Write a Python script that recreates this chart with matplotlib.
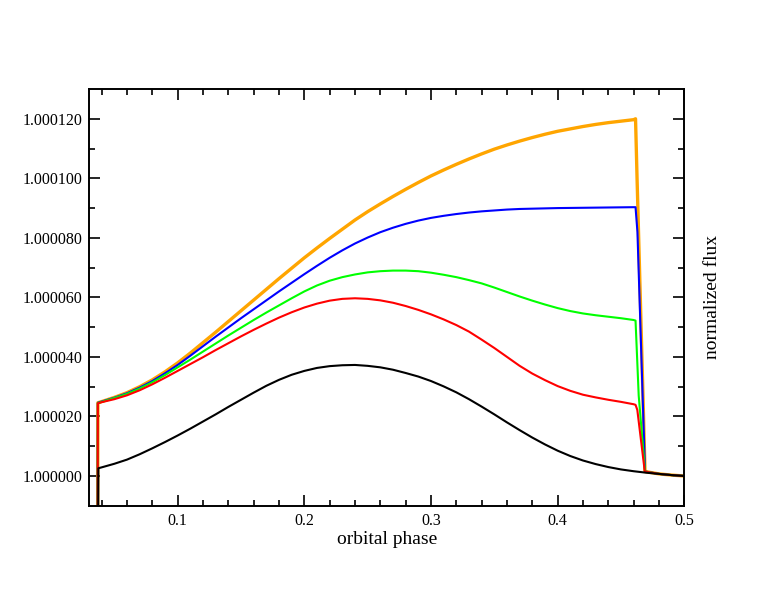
import numpy as np
import matplotlib
matplotlib.use('Agg')
import matplotlib.pyplot as plt
import matplotlib.ticker as tck

plt.rcParams['font.family'] = ['Liberation Serif', 'DejaVu Serif']

# phase grid shared by the coloured curves (smooth part, before the drop)
phase_c = [0.0368, 0.0370,
           0.04, 0.05, 0.06, 0.07, 0.08, 0.09, 0.10, 0.11, 0.12, 0.13,
           0.14, 0.15, 0.16, 0.17, 0.18, 0.19, 0.20, 0.21, 0.22, 0.23,
           0.24, 0.25, 0.26, 0.27, 0.28, 0.29, 0.30, 0.31, 0.32, 0.33,
           0.34, 0.35, 0.36, 0.37, 0.38, 0.39, 0.40, 0.41, 0.42, 0.43,
           0.44, 0.45, 0.46, 0.4615]

# flux excess in units of 1e-6 (flux = 1 + value*1e-6)
orange_v = [-20, 24.6,
            25.0, 26.4, 28.0, 30.0, 32.3, 35.0, 38.0, 41.3, 44.8, 48.3,
            51.9, 55.5, 59.1, 62.7, 66.3, 69.8, 73.3, 76.6, 79.8, 82.9,
            86.0, 88.8, 91.4, 93.9, 96.3, 98.6, 100.8, 102.8, 104.7, 106.5,
            108.2, 109.8, 111.2, 112.5, 113.7, 114.8, 115.8, 116.6, 117.4, 118.1,
            118.7, 119.2, 119.7, 120.0]
blue_v = [-20, 24.6,
          25.0, 26.3, 27.8, 29.7, 31.9, 34.5, 37.3, 40.4, 43.6, 46.8,
          49.9, 53.0, 56.0, 59.0, 62.0, 64.9, 67.8, 70.6, 73.3, 75.8,
          78.1, 80.1, 81.9, 83.4, 84.7, 85.8, 86.7, 87.4, 88.0, 88.5,
          88.9, 89.2, 89.5, 89.7, 89.8, 89.9, 90.0, 90.05, 90.1, 90.15,
          90.2, 90.25, 90.3, 90.3]
green_v = [-20, 24.5,
           24.9, 26.2, 27.6, 29.4, 31.5, 33.9, 36.5, 39.1, 41.8, 44.5,
           47.2, 49.8, 52.4, 54.9, 57.3, 59.7, 62.0, 64.0, 65.6, 66.8,
           67.7, 68.4, 68.8, 69.0, 69.0, 68.8, 68.3, 67.6, 66.8, 65.8,
           64.7, 63.3, 61.8, 60.3, 58.9, 57.6, 56.4, 55.4, 54.6, 54.0,
           53.5, 53.0, 52.4, 52.2]
red_v = [-20, 24.4,
         24.8, 25.8, 27.1, 28.8, 30.8, 33.0, 35.3, 37.6, 39.9, 42.3,
         44.6, 46.9, 49.1, 51.2, 53.2, 55.0, 56.6, 57.9, 58.9, 59.5,
         59.7, 59.5, 59.0, 58.2, 57.1, 55.8, 54.3, 52.6, 50.7, 48.5,
         45.8, 43.0, 40.0, 37.0, 34.4, 32.2, 30.2, 28.6, 27.3, 26.4,
         25.6, 24.9, 24.1, 23.9]

# drop at the end of each coloured curve, then the common tail
orange_tail_p = [0.4627, 0.4690, 0.48, 0.49, 0.50]
orange_tail_v = [100.0, 1.5, 0.7, 0.3, 0.0]
blue_tail_p = [0.4630, 0.4690, 0.48, 0.49, 0.50]
blue_tail_v = [82.0, 1.5, 0.7, 0.3, 0.0]
green_tail_p = [0.4640, 0.4690, 0.48, 0.49, 0.50]
green_tail_v = [27.0, 1.5, 0.7, 0.3, 0.0]
red_tail_p = [0.4629, 0.4688, 0.48, 0.49, 0.50]
red_tail_v = [22.2, 1.5, 0.7, 0.3, 0.0]

# black curve
phase_k = [0.0372, 0.0374,
           0.04, 0.05, 0.06, 0.07, 0.08, 0.09, 0.10, 0.11, 0.12, 0.13,
           0.14, 0.15, 0.16, 0.17, 0.18, 0.19, 0.20, 0.21, 0.22, 0.23,
           0.24, 0.25, 0.26, 0.27, 0.28, 0.29, 0.30, 0.31, 0.32, 0.33,
           0.34, 0.35, 0.36, 0.37, 0.38, 0.39, 0.40, 0.41, 0.42, 0.43,
           0.44, 0.45, 0.46, 0.47, 0.48, 0.49, 0.50]
black_v = [-20, 2.6,
           2.9, 4.1, 5.5, 7.3, 9.3, 11.4, 13.6, 15.9, 18.3, 20.7,
           23.2, 25.6, 28.0, 30.3, 32.3, 34.0, 35.3, 36.3, 36.9, 37.2,
           37.3, 37.0, 36.5, 35.7, 34.6, 33.4, 31.9, 30.1, 28.1, 25.8,
           23.3, 20.7, 18.0, 15.4, 12.9, 10.6, 8.5, 6.7, 5.2, 4.0,
           3.0, 2.2, 1.6, 1.1, 0.7, 0.3, 0.0]

fig = plt.figure(figsize=(7.7, 5.95), dpi=100)
ax = fig.add_axes([0.1156, 0.150, 0.7731, 0.7004])

def flux(v):
    return 1.0 + np.array(v) * 1e-6

# coloured curves, drawn in order so red sits on top, black last
series = [(orange_v, orange_tail_p, orange_tail_v, '#FFA500', 2.4),
          (blue_v, blue_tail_p, blue_tail_v, '#0000FF', 1.5),
          (green_v, green_tail_p, green_tail_v, '#00FF00', 1.5),
          (red_v, red_tail_p, red_tail_v, '#FF0000', 1.5)]
for vals, tp, tv, col, lw in series:
    ax.plot(phase_c + tp, flux(vals + tv), color=col, linewidth=lw)

ax.plot(phase_k, flux(black_v), color='black', linewidth=1.5)

ax.set_xlim(0.03, 0.5)
ax.set_ylim(0.99999, 1.00013)

# ticks on all sides pointing in
ax.xaxis.set_major_locator(tck.FixedLocator([0.1, 0.2, 0.3, 0.4, 0.5]))
ax.xaxis.set_minor_locator(tck.MultipleLocator(0.02))
ax.yaxis.set_major_locator(tck.FixedLocator(flux([0, 20, 40, 60, 80, 100, 120])))
ax.yaxis.set_minor_locator(tck.FixedLocator(flux([10, 30, 50, 70, 90, 110])))
ax.xaxis.set_major_formatter(tck.FormatStrFormatter('%.1f'))
ax.yaxis.set_major_formatter(tck.FormatStrFormatter('%.6f'))
ax.tick_params(which='both', direction='in', top=True, right=True, width=1.2)
ax.tick_params(which='major', length=8, labelsize=11.5, pad=5)
ax.tick_params(which='minor', length=4.5)
for s in ax.spines.values():
    s.set_linewidth(1.4)

ax.set_xlabel('orbital phase', fontsize=14, labelpad=2)
ax.yaxis.set_label_position('right')
ax.set_ylabel('normalized flux', fontsize=14, labelpad=14)

fig.savefig('out.png', dpi=100)
